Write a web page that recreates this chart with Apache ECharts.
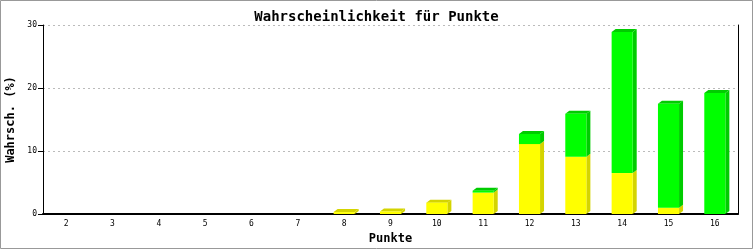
<!DOCTYPE html>
<html><head><meta charset="utf-8">
<script src="https://cdn.jsdelivr.net/npm/echarts@6/dist/echarts.min.js"></script>
<style>html,body{margin:0;padding:0;background:#fff}#c{width:753px;height:250px}</style>
</head><body><div id="c"></div>
<script>
var categories = ['2','3','4','5','6','7','8','9','10','11','12','13','14','15','16'];
var yellowValues = [0,0,0,0,0,0,0.3,0.4,1.8,3.4,11.1,9.1,6.5,1.0,0];
var greenValues = [0,0,0,0,0,0,0,0,0,0.3,1.6,6.8,22.4,16.5,19.2];
var yTicks = [0,10,20,30];

var FONT = '"DejaVu Sans Mono", monospace';
var YEL = '#ffff00', YEL_D = '#d4d400', GRN = '#00ff00', GRN_D = '#00cc00';
var D = 4, DY = 3;

var data = categories.map(function(c, i){ return [i, yellowValues[i], greenValues[i]]; });

function seg(api, x, lo, hi, w, front, dark, top, children){
  var p0 = api.coord([x, lo]), p1 = api.coord([x, hi]);
  var xl = p0[0] - w/2, xr = p0[0] + w/2;
  var yb = p0[1], yt = p1[1];
  children.push({type:'polygon', shape:{points:[[xr,yb],[xr+D,yb-DY],[xr+D,yt-DY],[xr,yt]]}, style:{fill:dark}});
  if (top) children.push({type:'polygon', shape:{points:[[xl,yt],[xl+D,yt-DY],[xr+D,yt-DY],[xr,yt]]}, style:{fill:dark}});
  children.push({type:'rect', shape:{x:xl, y:yt, width:w, height:yb-yt}, style:{fill:front}});
}

function renderItem(params, api){
  var x = api.value(0), y = api.value(1), g = api.value(2);
  var w = api.size([1,0])[0] * 0.455;
  var ch = [];
  if (y > 0) seg(api, x, 0, y, w, YEL, YEL_D, g <= 0, ch);
  if (g > 0) seg(api, x, y, y + g, w, GRN, GRN_D, true, ch);
  return {type:'group', children:ch};
}

var chart = echarts.init(document.getElementById('c'), null, {renderer:'canvas'});
chart.setOption({
  animation:false,
  backgroundColor:'#fff',
  title:{text:'Wahrscheinlichkeit für Punkte', left:'center', top:5,
    textStyle:{fontFamily:FONT, fontSize:14, fontWeight:'bold', color:'#000'}},
  grid:{left:43, right:15, top:25, bottom:36, outerBoundsMode:'none', containLabel:false},
  xAxis:{type:'category', data:categories, boundaryGap:true,
    name:'Punkte', nameLocation:'middle', nameGap:19,
    nameTextStyle:{fontFamily:FONT, fontSize:12, fontWeight:'bold', color:'#000'},
    axisLine:{lineStyle:{color:'#000', width:2}},
    axisTick:{show:false},
    axisLabel:{fontFamily:FONT, fontSize:8, color:'#000', margin:6}},
  yAxis:[{type:'value', min:0, max:30, interval:10,
    name:'Wahrsch. (%)', nameLocation:'middle', nameGap:24,
    nameTextStyle:{fontFamily:FONT, fontSize:12, fontWeight:'bold', color:'#000'},
    axisLine:{show:true, lineStyle:{color:'#000', width:1}},
    axisTick:{show:true, length:5, lineStyle:{color:'#000'}},
    axisLabel:{fontFamily:FONT, fontSize:8, color:'#000', margin:6,
      formatter:function(v){ return yTicks.indexOf(v) >= 0 ? String(v) : ''; }},
    splitLine:{show:true, lineStyle:{color:'#bbb', type:[2,3]}}},
   {type:'value', min:0, max:30, interval:10, position:'right',
    axisLine:{show:true, lineStyle:{color:'#000', width:1}},
    axisTick:{show:false}, axisLabel:{show:false}, splitLine:{show:false}}],
  graphic:[{type:'rect', shape:{x:0.5, y:0.5, width:752, height:248}, style:{fill:null, stroke:'#999', lineWidth:1}, silent:true}],
  series:[{type:'custom', renderItem:renderItem, data:data, encode:{x:0, y:[1,2]}, clip:false}]
});
</script></body></html>
